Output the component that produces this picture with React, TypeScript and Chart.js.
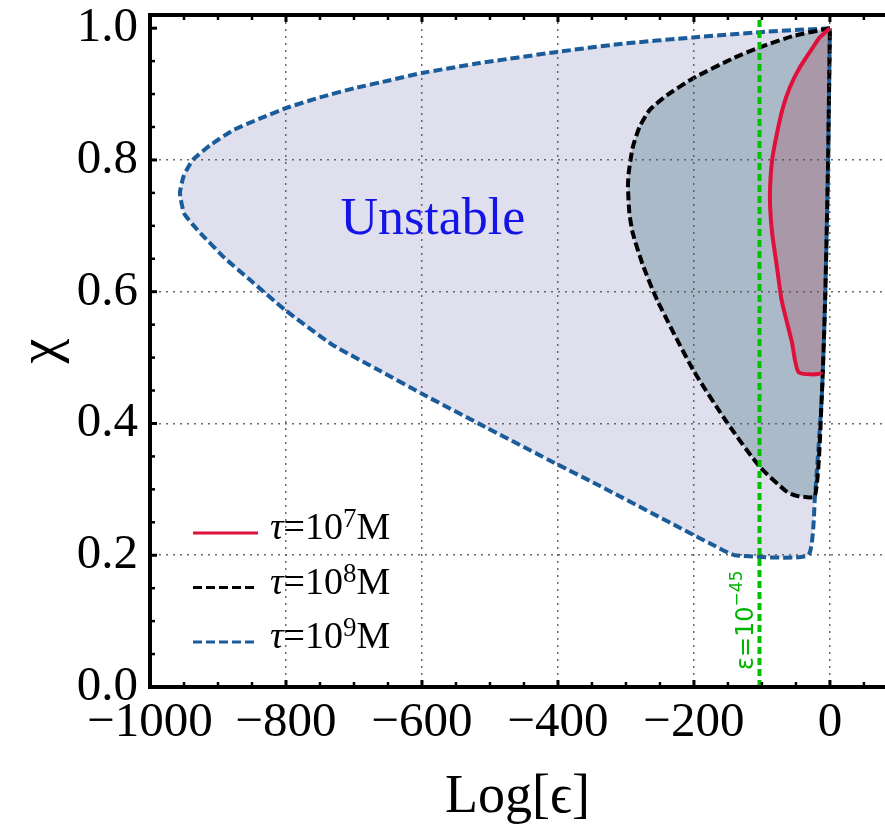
import { useEffect, useRef } from 'react';
import { Chart, registerables } from 'chart.js';

Chart.register(...registerables);

// ---- axis ticks ----
const xMajorTicks = [-1000, -800, -600, -400, -200, 0];
const yMajorTicks = [0, 0.2, 0.4, 0.6, 0.8, 1.0];
const xMinorStep = 50;
const yMinorStep = 0.05;
const xMin = -1000;
const xMax = 81;
const yMin = 0;
const yMax = 1.02;

// ---- boundary curves (Log[eps], chi) ----
const tau9Boundary: [number, number][] = [
  [0, 1.0], [-103, 0.994], [-201, 0.986], [-309, 0.976], [-401, 0.964], [-515, 0.947],
  [-600, 0.932], [-647, 0.921], [-699, 0.909], [-750, 0.895], [-799, 0.879], [-838, 0.863],
  [-878, 0.845], [-912, 0.822], [-937, 0.8], [-950, 0.777], [-956, 0.75], [-950, 0.719],
  [-938, 0.703], [-926, 0.689], [-890, 0.651], [-853, 0.618], [-801, 0.572], [-731, 0.519],
  [-662, 0.48], [-600, 0.445], [-515, 0.399], [-401, 0.338], [-338, 0.305], [-201, 0.231],
  [-169, 0.214], [-140, 0.2], [-32, 0.2], [-22, 0.29], [-12, 0.44], [-7, 0.59],
  [-3, 0.78], [0, 1.0],
];
const tau8Boundary: [number, number][] = [
  [0, 1.0], [-54, 0.988], [-103, 0.971], [-141, 0.955], [-201, 0.924], [-240, 0.898],
  [-265, 0.876], [-280, 0.85], [-290, 0.819], [-296, 0.78], [-297, 0.759], [-295, 0.72],
  [-290, 0.689], [-275, 0.64], [-254, 0.587], [-201, 0.481], [-151, 0.401], [-103, 0.334],
  [-63, 0.296], [-48, 0.29], [-22, 0.29], [-12, 0.44], [-7, 0.59], [-3, 0.78], [0, 1.0],
];
const tau7Boundary: [number, number][] = [
  [0, 1.0], [-15, 0.986], [-25, 0.971], [-44, 0.941], [-59, 0.91], [-69, 0.88],
  [-78, 0.84], [-85, 0.8], [-88, 0.759], [-88, 0.729], [-85, 0.689], [-78, 0.638],
  [-71, 0.587], [-56, 0.524], [-46, 0.478], [-12, 0.478], [-7, 0.59], [-3, 0.78], [0, 1.0],
];
const tau7VisibleSegments = 15; // right edge of the red region is not stroked
const epsilonLineX = -103.6; // Log[1e-45]

// ---- legend ----
const legendExponents = ['7', '8', '9'];
const legendColors = ['#e0103c', '#000000', '#1a5c9a'];
const legendDashes: number[][] = [[], [9, 4], [9, 4]];

const SERIF = '"Liberation Serif", "Times New Roman", serif';
const SANS = '"DejaVu Sans", sans-serif';

type Part = { t: string; font: string; dy: number };
function drawRich(ctx: CanvasRenderingContext2D, parts: Part[], x: number, y: number) {
  let cx = x;
  for (const p of parts) {
    ctx.font = p.font;
    ctx.fillText(p.t, cx, y + p.dy);
    cx += ctx.measureText(p.t).width;
  }
}

const overlayPlugin = {
  id: 'overlay',
  afterDraw(chart: any) {
    const { ctx, chartArea: ca, scales } = chart;
    const xs = scales.x;
    const ys = scales.y;
    ctx.save();
    ctx.strokeStyle = '#000';
    // top frame
    ctx.lineWidth = 4;
    ctx.beginPath();
    ctx.moveTo(ca.left - 2, ca.top);
    ctx.lineTo(chart.width, ca.top);
    ctx.stroke();

    // x ticks (bottom & top, inward)
    for (let v = xMin; v <= xMax + 1e-9; v += xMinorStep) {
      const major = xMajorTicks.includes(v);
      const px = xs.getPixelForValue(v);
      ctx.lineWidth = major ? 3 : 2.5;
      const len = major ? 7 : 5;
      ctx.beginPath();
      ctx.moveTo(px, ca.bottom);
      ctx.lineTo(px, ca.bottom - len);
      ctx.moveTo(px, ca.top);
      ctx.lineTo(px, ca.top + len);
      ctx.stroke();
    }
    // y ticks (left, inward)
    for (let i = 0; i * yMinorStep <= 1.0 + 1e-9; i++) {
      const v = i * yMinorStep;
      const major = yMajorTicks.some((t) => Math.abs(t - v) < 1e-9);
      const py = ys.getPixelForValue(v);
      ctx.lineWidth = major ? 3 : 2.5;
      const len = major ? 7 : 5;
      ctx.beginPath();
      ctx.moveTo(ca.left, py);
      ctx.lineTo(ca.left + len, py);
      ctx.stroke();
    }

    // "Unstable" label
    ctx.fillStyle = '#1414e6';
    ctx.font = `52px ${SERIF}`;
    ctx.textAlign = 'center';
    ctx.textBaseline = 'alphabetic';
    ctx.fillText('Unstable', xs.getPixelForValue(-584), ys.getPixelForValue(0.687));

    // legend
    ctx.textAlign = 'left';
    const lx0 = ca.left + 43;
    const lx1 = ca.left + 108;
    const ly0 = ca.bottom - 154;
    legendExponents.forEach((exp, i) => {
      const ly = ly0 + i * 54.5;
      ctx.save();
      ctx.strokeStyle = legendColors[i];
      ctx.lineWidth = 3;
      ctx.setLineDash(legendDashes[i]);
      ctx.beginPath();
      ctx.moveTo(lx0, ly);
      ctx.lineTo(lx1, ly);
      ctx.stroke();
      ctx.restore();
      ctx.fillStyle = '#000';
      drawRich(
        ctx,
        [
          { t: 'τ', font: `italic 38px ${SERIF}`, dy: 0 },
          { t: '=10', font: `38px ${SERIF}`, dy: 0 },
          { t: exp, font: `27px ${SERIF}`, dy: -12 },
          { t: 'M', font: `38px ${SERIF}`, dy: 0 },
        ],
        ca.left + 120,
        ly + 6,
      );
    });

    // epsilon line label (rotated)
    ctx.save();
    ctx.translate(xs.getPixelForValue(epsilonLineX) - 6, ca.bottom - 17);
    ctx.rotate(-Math.PI / 2);
    ctx.fillStyle = '#00b400';
    ctx.textBaseline = 'alphabetic';
    drawRich(
      ctx,
      [
        { t: 'ε=10', font: `24px ${SANS}`, dy: 0 },
        { t: '−45', font: `17px ${SANS}`, dy: -11 },
      ],
      0,
      0,
    );
    ctx.restore();

    ctx.restore();
  },
};

const toPts = (arr: [number, number][]) => arr.map(([x, y]) => ({ x, y }));

export default function App() {
  const ref = useRef<HTMLCanvasElement>(null);
  useEffect(() => {
    if (!ref.current) return;
    const gridColor = 'rgba(80,80,80,0.85)';
    const chart = new Chart(ref.current, {
      type: 'scatter',
      data: {
        datasets: [
          {
            label: 'eps line',
            data: toPts([[epsilonLineX, yMin], [epsilonLineX, yMax]]),
            showLine: true,
            borderColor: '#00c000',
            borderWidth: 4,
            borderDash: [7, 4],
            pointRadius: 0,
            fill: false,
            order: 0,
          } as any,
          {
            label: 'τ=10^7M',
            data: toPts(tau7Boundary),
            showLine: true,
            borderColor: '#e0103c',
            borderWidth: 4,
            backgroundColor: '#a898a8',
            fill: 'shape',
            tension: 0.2,
            pointRadius: 0,
            order: 1,
            segment: {
              borderColor: (c: any) => (c.p0DataIndex >= tau7VisibleSegments ? 'rgba(0,0,0,0)' : '#e0103c'),
            },
          } as any,
          {
            label: 'τ=10^8M',
            data: toPts(tau8Boundary),
            showLine: true,
            borderColor: '#000000',
            borderWidth: 4,
            borderDash: [9, 4],
            backgroundColor: '#aabac9',
            fill: 'shape',
            tension: 0.2,
            pointRadius: 0,
            order: 2,
          } as any,
          {
            label: 'τ=10^9M',
            data: toPts(tau9Boundary),
            showLine: true,
            borderColor: '#1a5c9a',
            borderWidth: 4,
            borderDash: [9, 4],
            backgroundColor: '#dfdfee',
            fill: 'shape',
            tension: 0.15,
            pointRadius: 0,
            order: 3,
          } as any,
        ],
      },
      options: {
        responsive: false,
        animation: false,
        events: [],
        layout: { padding: { top: 15, right: 0, left: 0, bottom: 0 } },
        plugins: {
          legend: { display: false },
          tooltip: { enabled: false },
          filler: { drawTime: 'beforeDatasetsDraw' },
        } as any,
        scales: {
          x: {
            type: 'linear',
            position: 'bottom',
            min: xMin,
            max: xMax,
            afterFit: (s: any) => {
              s.height = 143;
              s.paddingLeft = 0;
              s.paddingRight = 0;
              s.paddingTop = 0;
              s.paddingBottom = 0;
            },
            afterBuildTicks: (s: any) => {
              s.ticks = xMajorTicks.map((v) => ({ value: v }));
            },
            ticks: {
              autoSkip: false,
              maxRotation: 0,
              padding: 7,
              color: '#000',
              font: { family: SERIF, size: 49 },
              callback: (v: any) => (Number(v) === 0 ? '0' : (Number(v) < 0 ? '−' : '') + Math.abs(Number(v))),
            },
            grid: {
              z: 1,
              drawTicks: false,
              lineWidth: 1.5,
              color: (c: any) => (c.tick && c.tick.value === xMin ? 'rgba(0,0,0,0)' : gridColor),
            },
            border: { display: true, color: '#000', width: 4, dash: [2, 5], z: 1 },
            title: {
              display: true,
              text: 'Log[ϵ]',
              color: '#000',
              font: { family: SERIF, size: 54 },
              padding: { top: 0, bottom: 0 },
            },
          },
          y: {
            type: 'linear',
            position: 'left',
            min: yMin,
            max: yMax,
            afterFit: (s: any) => {
              s.width = 150;
              s.paddingLeft = 0;
              s.paddingRight = 0;
              s.paddingTop = 0;
              s.paddingBottom = 0;
            },
            afterBuildTicks: (s: any) => {
              s.ticks = yMajorTicks.map((v) => ({ value: v }));
            },
            ticks: {
              autoSkip: false,
              padding: 12,
              color: '#000',
              font: { family: SERIF, size: 49 },
              callback: (v: any) => Number(v).toFixed(1),
            },
            grid: {
              z: 1,
              drawTicks: false,
              lineWidth: 1.5,
              color: (c: any) =>
                c.tick && (c.tick.value === 0 || Math.abs(c.tick.value - 1) < 1e-9) ? 'rgba(0,0,0,0)' : gridColor,
            },
            border: { display: true, color: '#000', width: 4, dash: [2, 5], z: 1 },
            title: {
              display: true,
              text: 'χ',
              color: '#000',
              font: { family: SERIF, size: 56 },
              padding: { top: 9, bottom: 9 },
            },
          },
        },
      } as any,
      plugins: [overlayPlugin],
    });
    return () => chart.destroy();
  }, []);
  return (
    <div style={{ position: 'fixed', left: 0, top: 0, width: 885, height: 830, background: '#fff' }}>
      <canvas ref={ref} width={885} height={830} style={{ display: 'block', width: 885, height: 830 }} />
    </div>
  );
}
